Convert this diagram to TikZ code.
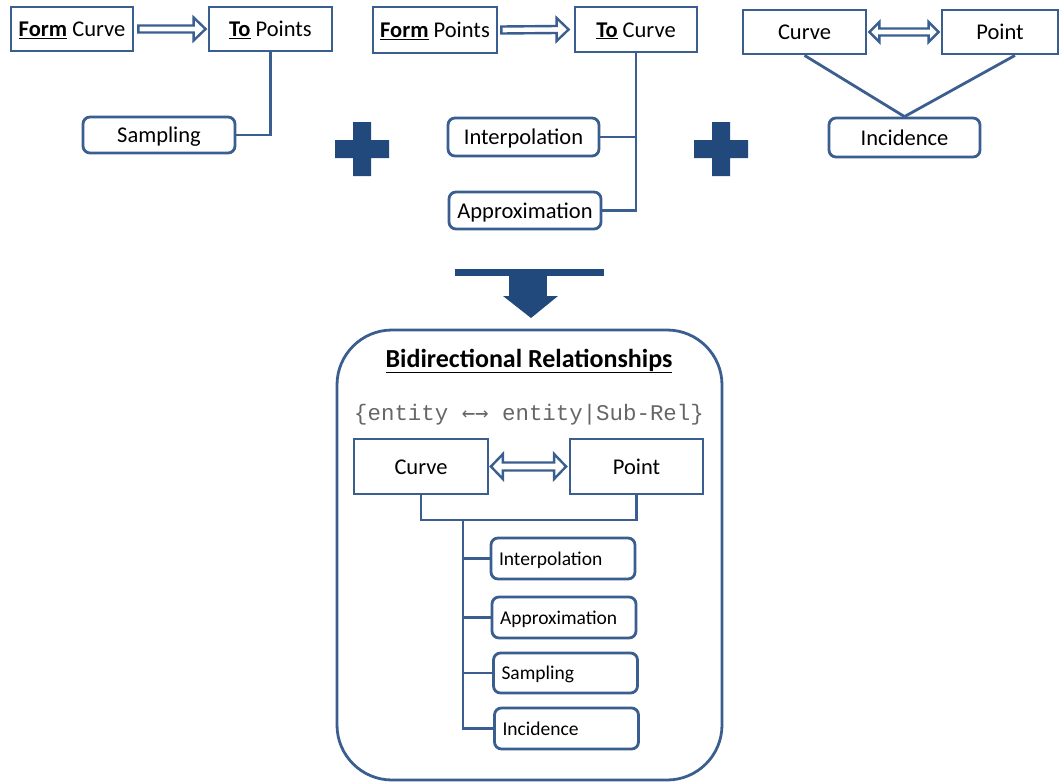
\documentclass[tikz,border=0pt]{standalone}
\usepackage{fontspec}
\setmainfont{Carlito}
\newfontfamily\monofont{Liberation Mono}
\newfontfamily\arrowfont{DejaVu Sans Mono}
\usetikzlibrary{calc}
\definecolor{edge}{HTML}{3A5E8F}
\definecolor{solid}{HTML}{21497C}
\definecolor{monogray}{HTML}{666666}

\tikzset{
  box/.style={draw=edge, line width=2.8pt, fill=white, inner sep=0pt, text=black,
              font=\fontsize{22.5}{27}\selectfont, text height=20pt, text depth=5pt},
  roundbox/.style={box, rounded corners=7pt},
  listbox/.style={roundbox, font=\fontsize{19.5}{23}\selectfont, align=left,
                  text width=128pt, inner xsep=8pt, minimum height=41pt,
                  text height=17.4pt, text depth=4.3pt},
  link/.style={draw=edge, line width=2.8pt},
  hollow/.style={draw=edge, line width=2.4pt, fill=white, line join=miter},
  solidshape/.style={fill=solid, draw=none},
}

% open block arrow: tail, tip, head length, head half-width, shaft half-width
\newcommand\hollowarrow[5]{%
  \draw[hollow] ($(#1)+(0,-#5)$) -- ($(#2)+(-#3,-#5)$) -- ($(#2)+(-#3,-#4)$) -- (#2)
    -- ($(#2)+(-#3,#4)$) -- ($(#2)+(-#3,#5)$) -- ($(#1)+(0,#5)$) -- cycle;}
% open two-headed block arrow: left tip, right tip, head length, head half-width, shaft half-width
\newcommand\hollowdouble[5]{%
  \draw[hollow] (#1) -- ($(#1)+(#3,-#4)$) -- ($(#1)+(#3,-#5)$) -- ($(#2)+(-#3,-#5)$)
    -- ($(#2)+(-#3,-#4)$) -- (#2) -- ($(#2)+(-#3,#4)$) -- ($(#2)+(-#3,#5)$)
    -- ($(#1)+(#3,#5)$) -- ($(#1)+(#3,#4)$) -- cycle;}

\begin{document}
\begin{tikzpicture}[x=1pt,y=-1pt]
\useasboundingbox (0,0) rectangle (1060,782);

% ---- curve to points ----
\node[box, minimum width=122pt, minimum height=44pt] (fc) at (72,29) {\underline{\textbf{Form}} Curve};
\node[box, minimum width=123pt, minimum height=44pt] (tp) at (270.5,29) {\underline{\textbf{To}} Points};
\node[roundbox, minimum width=152pt, minimum height=36pt] (samp) at (159,135) {Sampling};
\coordinate (fcA) at ($(fc.east)+(4,0)$);
\coordinate (tpA) at ($(tp.west)+(-2,0)$);
\hollowarrow{fcA}{tpA}{12}{11.5}{3.5}
\draw[link] (tp.south) |- (samp.east);

% ---- points to curve ----
\node[box, minimum width=124pt, minimum height=46pt] (fp) at (435,30) {\underline{\textbf{Form}} Points};
\node[box, minimum width=122pt, minimum height=45pt] (tc) at (636,29.5) {\underline{\textbf{To}} Curve};
\node[roundbox, minimum width=151pt, minimum height=38pt] (interp) at (523.5,137) {Interpolation};
\node[roundbox, minimum width=152pt, minimum height=37pt] (approx) at (525,210.5) {Approximation};
\coordinate (fpA) at ($(fp.east)+(3,0)$);
\coordinate (tcA) at ($(tc.west)+(-5,0)$);
\hollowarrow{fpA}{tcA}{12}{11.5}{3.5}
\draw[link] (tc.south) |- (approx.east);
\draw[link] (interp.east) -- (interp.east -| tc.south);

% ---- curve and point with incidence ----
\node[box, minimum width=123pt, minimum height=44pt] (cv) at (804.5,32) {Curve};
\node[box, minimum width=116pt, minimum height=44pt] (pt) at (1000,32) {Point};
\node[roundbox, minimum width=151pt, minimum height=39pt] (inc) at (904.5,137.5) {Incidence};
\coordinate (cvA) at ($(cv.east)+(2,0)$);
\coordinate (ptA) at ($(pt.west)+(-2,0)$);
\hollowdouble{cvA}{ptA}{10}{10}{3.5}
\draw[link] (cv.south) -- (inc.north);
\draw[link] ($(pt.south)+(15,0)$) -- (inc.north);

% ---- plus signs ----
\fill[solidshape] (353,122) rectangle (371,176) (335,140) rectangle (389,158);
\fill[solidshape] (712,122) rectangle (730,176) (694,140) rectangle (748,158);

% ---- combining arrow ----
\fill[solidshape] (455,269) rectangle (604,276);
\fill[solidshape] (509,275) rectangle (547,297);
\fill[solidshape] (503,296) -- (558,296) -- (531,318) -- cycle;

% ---- bidirectional relationships ----
\draw[link] [rounded corners=55pt] (337,330) rectangle (722,780);
\node[font=\fontsize{26}{31}\selectfont\bfseries] (title) at (529,361) {\underline{Bidirectional Relationships}};
\node[font=\monofont\fontsize{22.4}{26}\selectfont, text=monogray] (notation) at (529,415)
  {\{entity {\arrowfont\fontsize{22.4}{26}\selectfont ←→} entity|Sub-Rel\}};

\node[box, minimum width=134pt, minimum height=55pt] (bc) at (421,466.5) {Curve};
\node[box, minimum width=133pt, minimum height=55pt] (bp) at (636.5,466.5) {Point};
\coordinate (bcA) at ($(bc.east)+(1.5,0)$);
\coordinate (bpA) at ($(bp.west)+(-2.5,0)$);
\hollowdouble{bcA}{bpA}{12}{12.5}{4}

\coordinate (jn) at (463,520);
\draw[link] (bc.south) |- (jn) -| (bp.south);

\node[listbox] (bi) at (563,558.5) {Interpolation};
\node[listbox] (ba) at (564,617.5) {Approximation};
\node[listbox, minimum height=40pt] (bs) at (565.5,673) {Sampling};
\node[listbox] (bn) at (566.5,728.5) {Incidence};

\draw[link] (jn) |- (bn.west);
\draw[link] (bi.west) -- (bi.west -| jn);
\draw[link] (ba.west) -- (ba.west -| jn);
\draw[link] (bs.west) -- (bs.west -| jn);
\end{tikzpicture}
\end{document}
